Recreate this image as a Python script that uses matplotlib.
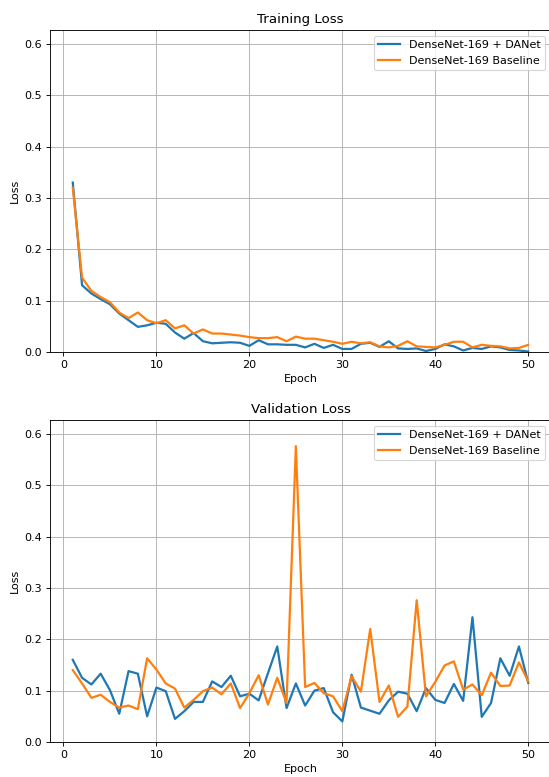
import numpy as np
import matplotlib
matplotlib.use("Agg")
import matplotlib.pyplot as plt

epochs = np.arange(1, 51)

# training loss
train_danet = [0.330, 0.130, 0.114, 0.103, 0.093, 0.075, 0.062, 0.049, 0.052, 0.057,
               0.055, 0.038, 0.026, 0.037, 0.021, 0.017, 0.018, 0.019, 0.018, 0.012,
               0.023, 0.015, 0.015, 0.014, 0.014, 0.009, 0.016, 0.008, 0.014, 0.006,
               0.006, 0.016, 0.018, 0.010, 0.021, 0.007, 0.006, 0.007, 0.002, 0.006,
               0.015, 0.011, 0.003, 0.008, 0.006, 0.011, 0.009, 0.004, 0.003, 0.001]
train_base = [0.320, 0.145, 0.119, 0.107, 0.097, 0.077, 0.066, 0.077, 0.062, 0.056,
              0.062, 0.046, 0.052, 0.036, 0.044, 0.036, 0.036, 0.034, 0.032, 0.029,
              0.027, 0.027, 0.029, 0.021, 0.030, 0.026, 0.026, 0.023, 0.020, 0.016,
              0.020, 0.017, 0.019, 0.011, 0.009, 0.012, 0.021, 0.011, 0.010, 0.009,
              0.014, 0.020, 0.020, 0.009, 0.014, 0.012, 0.011, 0.007, 0.008, 0.014]

# validation loss
val_danet = [0.160, 0.125, 0.112, 0.133, 0.101, 0.055, 0.138, 0.133, 0.050, 0.106,
             0.099, 0.045, 0.060, 0.078, 0.078, 0.118, 0.107, 0.129, 0.089, 0.094,
             0.081, 0.134, 0.186, 0.066, 0.114, 0.071, 0.100, 0.105, 0.058, 0.040,
             0.131, 0.067, 0.061, 0.055, 0.081, 0.098, 0.094, 0.060, 0.105, 0.082,
             0.076, 0.113, 0.080, 0.243, 0.049, 0.076, 0.163, 0.129, 0.186, 0.115]
val_base = [0.140, 0.114, 0.086, 0.092, 0.078, 0.067, 0.071, 0.064, 0.163, 0.141,
            0.114, 0.104, 0.067, 0.082, 0.099, 0.106, 0.093, 0.114, 0.066, 0.095,
            0.130, 0.073, 0.125, 0.076, 0.576, 0.107, 0.115, 0.095, 0.089, 0.060,
            0.128, 0.098, 0.220, 0.078, 0.110, 0.049, 0.069, 0.276, 0.089, 0.117,
            0.149, 0.157, 0.102, 0.112, 0.091, 0.135, 0.109, 0.110, 0.155, 0.118]

# original was rendered larger and scaled down; 80 dpi keeps the text small
fig, (ax1, ax2) = plt.subplots(2, 1, figsize=(549 / 80, 777 / 80), dpi=80)
fig.subplots_adjust(left=50 / 549, right=551 / 549, top=1 - 30 / 777,
                    bottom=35 / 777, hspace=0.211)

ax1.plot(epochs, train_danet, label="DenseNet-169 + DANet", linewidth=2)
ax1.plot(epochs, train_base, label="DenseNet-169 Baseline", linewidth=2)
ax1.set_title("Training Loss")
ax1.set_xlabel("Epoch")
ax1.set_ylabel("Loss")
ax1.set_ylim(0, 0.627)
ax1.grid(True)
ax1.legend(loc="upper right")

ax2.plot(epochs, val_danet, label="DenseNet-169 + DANet", linewidth=2)
ax2.plot(epochs, val_base, label="DenseNet-169 Baseline", linewidth=2)
ax2.set_title("Validation Loss")
ax2.set_xlabel("Epoch")
ax2.set_ylabel("Loss")
ax2.set_ylim(0, 0.627)
ax2.grid(True)
ax2.legend(loc="upper right")

plt.savefig("out.png")
